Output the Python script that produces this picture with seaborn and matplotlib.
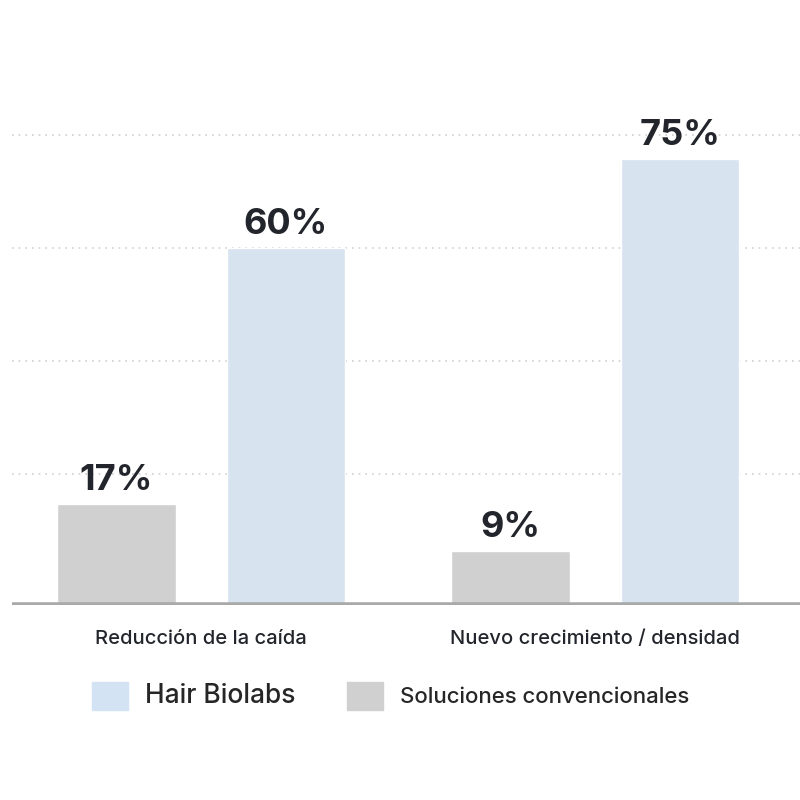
import matplotlib
matplotlib.use("Agg")
import matplotlib.pyplot as plt
import seaborn as sns
import pandas as pd
from matplotlib.patches import Patch

categorias = ["Reducción de la caída", "Nuevo crecimiento / densidad"]
series = ["Soluciones convencionales", "Hair Biolabs"]
valores_conv = [17, 9]
valores_hair = [60, 75]
colores = {"Soluciones convencionales": "#d0d0d0", "Hair Biolabs": "#d3e3f3"}

df = pd.DataFrame({
    "cat": categorias * 2,
    "serie": [series[0]] * 2 + [series[1]] * 2,
    "valor": valores_conv + valores_hair,
})

sns.set_style("white")
plt.rcParams["font.family"] = ["Inter", "DejaVu Sans"]

fig = plt.figure(figsize=(8, 8), dpi=100)
ax = fig.add_axes([0.015, 0.244, 0.985, 0.632])
sns.barplot(data=df, x="cat", y="valor", hue="serie", hue_order=series,
            palette=colores, width=0.86, gap=0.3, ax=ax, legend=False)

for cont in ax.containers:
    ax.bar_label(cont, labels=[f"{int(v)}%" for v in cont.datavalues],
                 padding=5, fontsize=26, fontweight="bold", color="#22252b")

ax.set_ylim(0, 85)
ax.set_xlim(-0.48, 1.52)
for y in [22, 41, 60, 79]:
    ax.axhline(y, color="#cfcfcf", linestyle=(0, (1, 3)), linewidth=1.2, zorder=0)
ax.axhline(0, color="#a9a9a9", linewidth=4, zorder=3)
for s in ax.spines.values():
    s.set_visible(False)
ax.set_yticks([])
ax.set_xlabel("")
ax.set_ylabel("")
ax.tick_params(axis="x", length=0, pad=18, labelsize=14.5, labelcolor="#22252b")
for t in ax.get_xticklabels():
    t.set_fontweight("medium")

handles = [Patch(color=colores["Hair Biolabs"]), Patch(color=colores["Soluciones convencionales"])]
leg = fig.legend(handles, ["Hair Biolabs", "Soluciones convencionales"], loc="center left",
                 bbox_to_anchor=(0.09, 0.13), ncol=2, frameon=False, fontsize=16,
                 handlelength=1.6, handleheight=1.6, columnspacing=2.3, handletextpad=0.8)
leg.get_texts()[0].set_fontsize(19)
for t in leg.get_texts():
    t.set_fontweight("medium")

fig.savefig("out.png", dpi=100, facecolor="white")
